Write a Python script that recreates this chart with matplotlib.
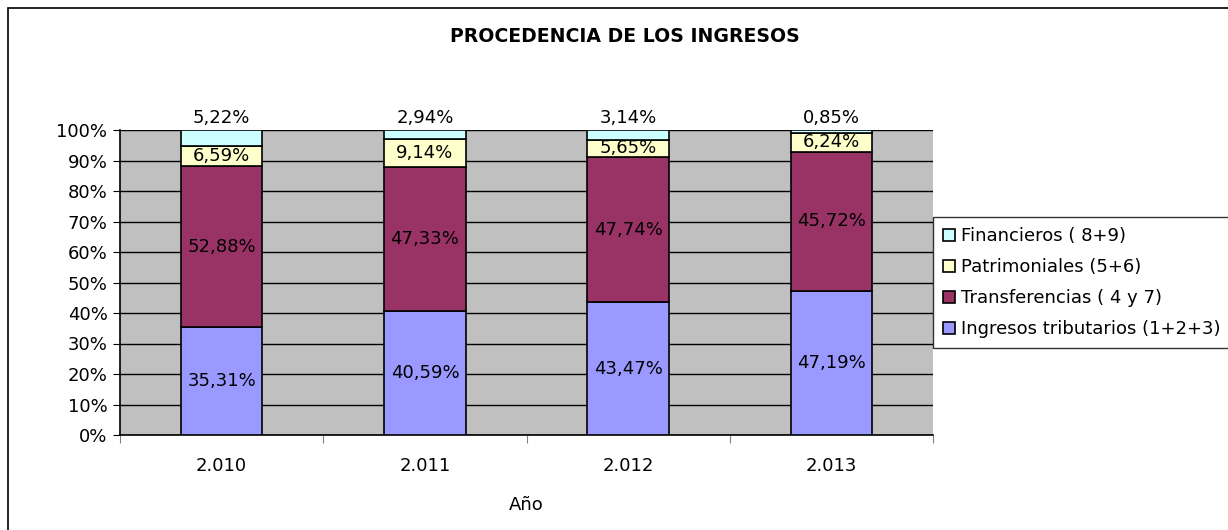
import matplotlib.pyplot as plt
import matplotlib.patches as patches
import numpy as np

plt.rcParams['font.family'] = ['DejaVu Sans']

anni = ["2.010", "2.011", "2.012", "2.013"]
tributarios = [35.31, 40.59, 43.47, 47.19]
transferencias = [52.88, 47.33, 47.74, 45.72]
patrimoniales = [6.59, 9.14, 5.65, 6.24]
financieros = [5.22, 2.94, 3.14, 0.85]

serie = [
    ("Ingresos tributarios (1+2+3)", tributarios, "#9999FF"),
    ("Transferencias ( 4 y 7)", transferencias, "#993366"),
    ("Patrimoniales (5+6)", patrimoniales, "#FFFFCC"),
    ("Financieros ( 8+9)", financieros, "#CCFFFF"),
]

def etichetta(v):
    return f"{v:.2f}".replace(".", ",") + "%"

fs = 13

fig = plt.figure(figsize=(12.28, 5.3), dpi=100)
ax = fig.add_axes([120 / 1228, 1 - 435 / 530, 813 / 1228, 305 / 530])
ax.set_facecolor("#C0C0C0")

x = np.arange(len(anni))
base = np.zeros(len(anni))
barre = []
for nome, valori, colore in serie:
    b = ax.bar(x, valori, 0.4, bottom=base, color=colore, edgecolor="black",
               linewidth=1.2, label=nome, zorder=3)
    barre.append(b)
    for i, v in enumerate(valori):
        if nome.startswith("Financieros"):
            # le etichette piccole stanno sopra la barra
            ax.text(x[i], 104, etichetta(v), ha="center", va="center", fontsize=fs, zorder=4)
        else:
            ax.text(x[i], base[i] + v / 2, etichetta(v), ha="center", va="center", fontsize=fs, zorder=4)
    base = base + np.array(valori)

ax.set_xlim(-0.5, 3.5)
ax.set_ylim(0, 100)
ax.set_yticks(np.arange(0, 101, 10))
ax.set_yticklabels([f"{v}%" for v in range(0, 101, 10)], fontsize=fs)
ax.yaxis.grid(True, color="black", linewidth=1, zorder=1)
ax.set_axisbelow(True)

# tick sulle separazioni, etichette al centro
ax.set_xticks([-0.5, 0.5, 1.5, 2.5, 3.5])
ax.set_xticklabels([])
ax.set_xticks(x, minor=True)
ax.set_xticklabels(anni, minor=True, fontsize=fs)
ax.tick_params(axis="x", which="minor", length=0, pad=16)
ax.tick_params(axis="x", which="major", length=6, color="gray", direction="out")
ax.tick_params(axis="y", length=5, direction="out", pad=4)

ax.spines["top"].set_visible(False)
ax.spines["right"].set_visible(False)
ax.spines["left"].set_linewidth(1.2)
ax.spines["bottom"].set_linewidth(1.2)

ax.set_xlabel("Año", fontsize=fs, labelpad=15)
fig.text(625 / 1228, 1 - 37 / 530, "PROCEDENCIA DE LOS INGRESOS", ha="center", va="center",
         fontsize=13.6, fontweight="bold")

handles = barre[::-1]
labels = [s[0] for s in serie][::-1]
leg = fig.legend(handles, labels, loc="upper left", bbox_to_anchor=(933 / 1228, 1 - 217 / 530),
                 fontsize=fs, frameon=True, fancybox=False, edgecolor="black",
                 handlelength=0.65, handleheight=0.65, handletextpad=0.35, labelspacing=0.72,
                 borderpad=0.55, borderaxespad=0)
leg.get_frame().set_linewidth(1)

fig.patches.append(patches.Rectangle((8 / 1228, -0.05), 1.1, 1.05 - 8 / 530, transform=fig.transFigure,
                                     fill=False, edgecolor="black", linewidth=1.2))

fig.savefig("out.png", dpi=100)
